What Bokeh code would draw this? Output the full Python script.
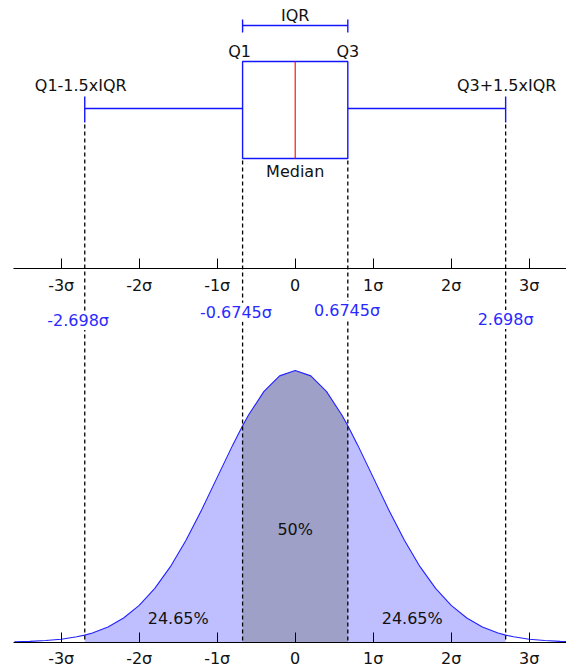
import numpy as np
from bokeh.plotting import figure
from bokeh.models import LinearAxis, FixedTicker, Range1d
from bokeh.core.properties import value
from bokeh.embed import file_html
from bokeh.resources import INLINE

# ---------------- data ----------------
q1, median, q3 = -0.6745, 0.0, 0.6745
whisker_lo, whisker_hi = -2.698, 2.698

sigma_ticks = [-3, -2, -1, 0, 1, 2, 3]
sigma_labels = ["-3σ", "-2σ", "-1σ", "0", "1σ", "2σ", "3σ"]

marker_values = [-2.698, -0.6745, 0.6745, 2.698]
marker_labels = ["-2.698σ", "-0.6745σ", "0.6745σ", "2.698σ"]

area_labels = ["24.65%", "50%", "24.65%"]
area_label_x = [-1.5, 0.0, 1.5]

# standard normal density
pdf_x = [-3.6, -3.4, -3.2, -3.0, -2.8, -2.698, -2.6, -2.4, -2.2, -2.0, -1.8, -1.6,
         -1.4, -1.2, -1.0, -0.8, -0.6745, -0.6, -0.4, -0.2, 0.0, 0.2, 0.4, 0.6,
         0.6745, 0.8, 1.0, 1.2, 1.4, 1.6, 1.8, 2.0, 2.2, 2.4, 2.6, 2.698, 2.8,
         3.0, 3.2, 3.4, 3.6]
pdf_y = [0.0006, 0.0012, 0.0024, 0.0044, 0.0079, 0.0104, 0.0136, 0.0224, 0.0355,
         0.0540, 0.0790, 0.1109, 0.1497, 0.1942, 0.2420, 0.2897, 0.3178, 0.3332,
         0.3683, 0.3910, 0.3989, 0.3910, 0.3683, 0.3332, 0.3178, 0.2897, 0.2420,
         0.1942, 0.1497, 0.1109, 0.0790, 0.0540, 0.0355, 0.0224, 0.0136, 0.0104,
         0.0079, 0.0044, 0.0024, 0.0012, 0.0006]

# ---------------- layout (page pixels) ----------------
W, H = 566, 668
PX_PER_SIGMA = 78.0
ZERO_PX = 294.7            # x of 0
BASE_PX = 641.7            # y of density 0 (from top)
PEAK_PX = 370.0            # y of density peak
k = (BASE_PX - PEAK_PX) / max(pdf_y)

x_start = -ZERO_PX / PX_PER_SIGMA
x_end = x_start + W / PX_PER_SIGMA
y_start = -(H - BASE_PX) / k
y_end = BASE_PX / k


def Y(page_y):
    """vertical layout position (page px from top) -> data units"""
    return (BASE_PX - page_y) / k


BLUE = "#1414FF"
BLUE_TXT = "#2A2AFF"
TXT = "#111111"
FONT = value("DejaVu Sans")

p = figure(width=W, height=H, x_range=Range1d(x_start, x_end),
           y_range=Range1d(y_start, y_end), x_axis_location=None,
           y_axis_location=None, toolbar_location=None, output_backend="svg",
           min_border=0)
p.outline_line_color = None
p.background_fill_color = "white"
p.border_fill_color = "white"
p.grid.visible = False

xs = np.array(pdf_x)
ys = np.array(pdf_y)
light = (xs >= whisker_lo - 1e-9) & (xs <= whisker_hi + 1e-9)
dark = (xs >= q1 - 1e-9) & (xs <= q3 + 1e-9)
p.varea(x=xs[light], y1=0, y2=ys[light], fill_color="#BFBFFF")
p.varea(x=xs[dark], y1=0, y2=ys[dark], fill_color="#9FA0C8")
p.line(xs, ys, line_color="#2222FF", line_width=1.1)

# dashed guide lines
dash_top = [Y(124), Y(160), Y(160), Y(124)]
p.segment(x0=marker_values, y0=dash_top, x1=marker_values, y1=[0] * 4,
          line_color="black", line_width=1.3, line_dash="4 3")

# box plot
p.quad(left=q1, right=q3, bottom=Y(158), top=Y(61), fill_color=None,
       line_color=BLUE, line_width=1.4)
p.segment(x0=[median], y0=[Y(61)], x1=[median], y1=[Y(158)],
          line_color="#FF0000", line_width=1.1)
p.segment(x0=[whisker_lo, q3], y0=[Y(108)] * 2, x1=[q1, whisker_hi],
          y1=[Y(108)] * 2, line_color=BLUE, line_width=1.4)
p.segment(x0=[whisker_lo, whisker_hi], y0=[Y(96)] * 2,
          x1=[whisker_lo, whisker_hi], y1=[Y(122)] * 2, line_color=BLUE,
          line_width=1.4)
# IQR bracket
p.segment(x0=[q1], y0=[Y(25)], x1=[q3], y1=[Y(25)], line_color=BLUE,
          line_width=1.4)
p.segment(x0=[q1, q3], y0=[Y(19)] * 2, x1=[q1, q3], y1=[Y(32)] * 2,
          line_color=BLUE, line_width=1.4)

common = dict(text_font=FONT, text_font_size="16px", text_align="center",
              text_baseline="middle")
p.text(x=[median], y=[Y(15)], text=["IQR"], text_color=TXT, **common)
p.text(x=[q1, q3], y=[Y(51)] * 2, text=["Q1", "Q3"], x_offset=[-3, 0],
       text_color=TXT, **common)
p.text(x=[whisker_lo, whisker_hi], y=[Y(85)] * 2,
       text=["Q1-1.5xIQR", "Q3+1.5xIQR"], x_offset=[-4, 1], text_color=TXT,
       **common)
p.text(x=[median], y=[Y(171)], text=["Median"], text_color=TXT, **common)
p.text(x=marker_values, y=[Y(320), Y(311.7), Y(310), Y(319)],
       text=marker_labels, x_offset=[-6.6, -6.6, -0.8, 0], text_color=BLUE_TXT,
       background_fill_color="white", **common)
p.text(x=area_label_x, y=[Y(617.7), Y(529), Y(617.7)], text=area_labels,
       text_color=TXT, **common)

# the two sigma axes
for loc, standoff in [(Y(267.7), 8), (0, 7)]:
    ax = LinearAxis(fixed_location=loc, ticker=FixedTicker(ticks=sigma_ticks),
                    bounds=(-3.61, 6.0))
    ax.major_label_overrides = dict(zip(sigma_ticks, sigma_labels))
    ax.axis_line_color = "black"
    ax.axis_line_width = 1
    ax.major_tick_line_color = "black"
    ax.major_tick_in = 10
    ax.major_tick_out = 0
    ax.minor_tick_line_color = None
    ax.major_label_standoff = standoff
    ax.major_label_text_font = "DejaVu Sans"
    ax.major_label_text_font_size = "16px"
    ax.major_label_text_color = TXT
    p.add_layout(ax, "below")

open("out.html", "w").write(file_html(p, INLINE))
